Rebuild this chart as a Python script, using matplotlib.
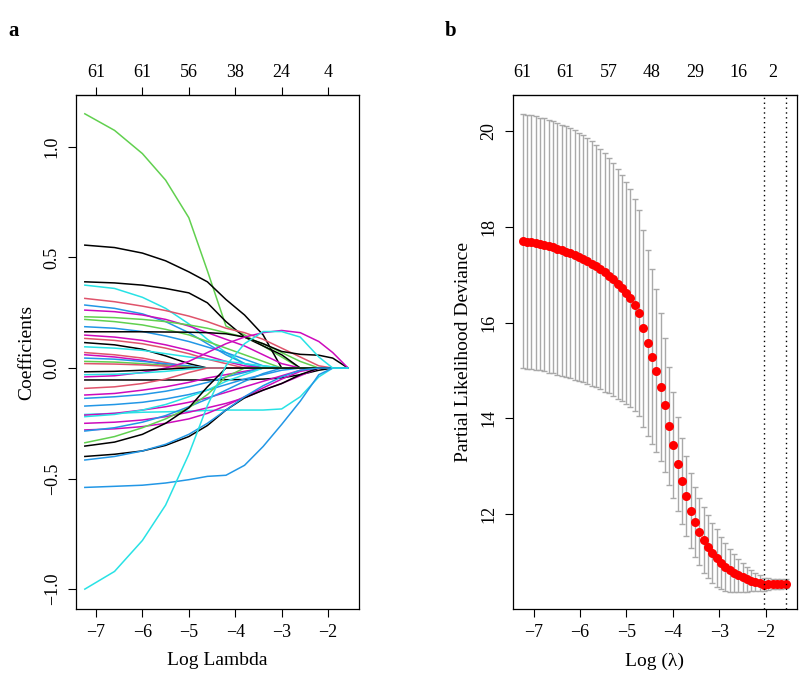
import matplotlib
matplotlib.use("Agg")
import matplotlib.pyplot as plt

plt.rcParams['font.family'] = ['Liberation Serif', 'DejaVu Serif']

# ---- panel a: coefficient paths (values read at these log lambda points)
path_x = [-7.24, -6.6, -6.0, -5.5, -5.0, -4.6, -4.2, -3.8, -3.4, -3.0, -2.6, -2.2, -1.9, -1.57]

K, R, G, B, C, M = "black", "#DF536B", "#61D04F", "#2297E6", "#28E2E5", "#CD0BBC"

paths = [
    (G, [1.15, 1.075, 0.97, 0.85, 0.68, 0.44, 0.19, 0.15, 0.10, 0.05, 0.0, 0.0, 0.0, 0.0]),
    (K, [0.556, 0.545, 0.52, 0.485, 0.435, 0.39, 0.31, 0.24, 0.15, 0.0, 0.0, 0.0, 0.0, 0.0]),
    (K, [0.39, 0.385, 0.375, 0.36, 0.34, 0.295, 0.21, 0.14, 0.10, 0.06, 0.0, 0.0, 0.0, 0.0]),
    (C, [0.375, 0.36, 0.32, 0.27, 0.20, 0.13, 0.07, 0.02, 0.0, 0.0, 0.0, 0.0, 0.0, 0.0]),
    (R, [0.315, 0.30, 0.28, 0.26, 0.235, 0.21, 0.18, 0.16, 0.13, 0.09, 0.05, 0.01, 0.0, 0.0]),
    (B, [0.285, 0.27, 0.245, 0.21, 0.16, 0.11, 0.06, 0.02, 0.0, 0.0, 0.0, 0.0, 0.0, 0.0]),
    (M, [0.262, 0.255, 0.24, 0.22, 0.19, 0.16, 0.13, 0.10, 0.06, 0.02, 0.0, 0.0, 0.0, 0.0]),
    (G, [0.232, 0.228, 0.22, 0.21, 0.195, 0.18, 0.16, 0.14, 0.11, 0.07, 0.03, 0.0, 0.0, 0.0]),
    (G, [0.22, 0.21, 0.195, 0.175, 0.15, 0.12, 0.09, 0.06, 0.03, 0.0, 0.0, 0.0, 0.0, 0.0]),
    (B, [0.187, 0.18, 0.165, 0.145, 0.12, 0.095, 0.07, 0.04, 0.01, 0.0, 0.0, 0.0, 0.0, 0.0]),
    (K, [0.164, 0.164, 0.164, 0.163, 0.162, 0.16, 0.155, 0.14, 0.11, 0.075, 0.062, 0.058, 0.045, 0.0]),
    (M, [0.149, 0.14, 0.125, 0.105, 0.08, 0.055, 0.03, 0.01, 0.0, 0.0, 0.0, 0.0, 0.0, 0.0]),
    (R, [0.134, 0.125, 0.11, 0.09, 0.065, 0.04, 0.02, 0.0, 0.0, 0.0, 0.0, 0.0, 0.0, 0.0]),
    (K, [0.115, 0.105, 0.085, 0.055, 0.02, 0.0, 0.0, 0.0, 0.0, 0.0, 0.0, 0.0, 0.0, 0.0]),
    (C, [0.096, 0.09, 0.08, 0.065, 0.05, 0.04, 0.03, 0.02, 0.01, 0.0, 0.0, 0.0, 0.0, 0.0]),
    (R, [0.07, 0.06, 0.045, 0.025, 0.005, 0.0, 0.0, 0.0, 0.0, 0.0, 0.0, 0.0, 0.0, 0.0]),
    (M, [0.06, 0.05, 0.035, 0.015, 0.0, 0.0, 0.0, 0.0, 0.0, 0.0, 0.0, 0.0, 0.0, 0.0]),
    (B, [0.045, 0.04, 0.03, 0.02, 0.01, 0.0, 0.0, 0.0, 0.0, 0.0, 0.0, 0.0, 0.0, 0.0]),
    (G, [0.03, 0.027, 0.02, 0.012, 0.004, 0.0, 0.0, 0.0, 0.0, 0.0, 0.0, 0.0, 0.0, 0.0]),
    (R, [0.02, 0.018, 0.014, 0.008, 0.0, 0.0, 0.0, 0.0, 0.0, 0.0, 0.0, 0.0, 0.0, 0.0]),
    (M, [-0.04, -0.035, -0.02, 0.0, 0.03, 0.07, 0.11, 0.14, 0.16, 0.17, 0.16, 0.12, 0.07, 0.0]),
    (K, [-0.017, -0.015, -0.01, -0.005, 0.0, 0.0, 0.0, 0.0, 0.0, 0.0, 0.0, 0.0, 0.0, 0.0]),
    (K, [-0.054, -0.054, -0.054, -0.054, -0.054, -0.054, -0.053, -0.052, -0.05, -0.045, -0.03, -0.01, 0.0, 0.0]),
    (C, [-0.03, -0.028, -0.022, -0.015, -0.005, 0.0, 0.0, 0.0, 0.0, 0.0, 0.0, 0.0, 0.0, 0.0]),
    (R, [-0.092, -0.085, -0.07, -0.05, -0.02, 0.0, 0.0, 0.0, 0.0, 0.0, 0.0, 0.0, 0.0, 0.0]),
    (M, [-0.122, -0.115, -0.10, -0.085, -0.065, -0.045, -0.03, -0.015, 0.0, 0.0, 0.0, 0.0, 0.0, 0.0]),
    (B, [-0.137, -0.13, -0.12, -0.105, -0.085, -0.065, -0.04, -0.02, 0.0, 0.0, 0.0, 0.0, 0.0, 0.0]),
    (B, [-0.172, -0.165, -0.155, -0.14, -0.12, -0.10, -0.075, -0.05, -0.03, -0.01, 0.0, 0.0, 0.0, 0.0]),
    (C, [-0.21, -0.205, -0.20, -0.198, -0.195, -0.192, -0.19, -0.19, -0.19, -0.185, -0.13, -0.04, 0.0, 0.0]),
    (M, [-0.213, -0.205, -0.19, -0.175, -0.155, -0.135, -0.11, -0.085, -0.06, -0.035, -0.01, 0.0, 0.0, 0.0]),
    (C, [-0.22, -0.21, -0.19, -0.165, -0.13, -0.10, -0.06, -0.03, 0.0, 0.0, 0.0, 0.0, 0.0, 0.0]),
    (M, [-0.25, -0.245, -0.235, -0.22, -0.20, -0.18, -0.16, -0.135, -0.10, -0.07, -0.035, 0.0, 0.0, 0.0]),
    (M, [-0.28, -0.275, -0.265, -0.25, -0.23, -0.205, -0.17, -0.13, -0.09, -0.05, -0.015, 0.0, 0.0, 0.0]),
    (B, [-0.285, -0.27, -0.245, -0.215, -0.175, -0.14, -0.10, -0.06, -0.025, 0.0, 0.0, 0.0, 0.0, 0.0]),
    (G, [-0.338, -0.31, -0.27, -0.23, -0.18, -0.12, -0.04, 0.0, 0.0, 0.0, 0.0, 0.0, 0.0, 0.0]),
    (K, [-0.353, -0.335, -0.30, -0.25, -0.18, -0.085, 0.0, 0.0, 0.0, 0.0, 0.0, 0.0, 0.0, 0.0]),
    (K, [-0.40, -0.39, -0.375, -0.35, -0.31, -0.26, -0.19, -0.135, -0.10, -0.07, -0.03, 0.0, 0.0, 0.0]),
    (B, [-0.416, -0.40, -0.375, -0.345, -0.30, -0.25, -0.19, -0.13, -0.08, -0.04, -0.01, 0.0, 0.0, 0.0]),
    (B, [-0.54, -0.535, -0.53, -0.52, -0.505, -0.49, -0.485, -0.44, -0.355, -0.255, -0.15, -0.03, 0.0, 0.0]),
    (C, [-1.0, -0.92, -0.78, -0.62, -0.39, -0.17, 0.01, 0.11, 0.165, 0.165, 0.14, 0.05, 0.0, 0.0]),
]

top_a_pos = [-7, -6, -5, -4, -3, -2]
top_a_lab = ["61", "61", "56", "38", "24", "4"]

# ---- panel b: cross-validation curve
log_lam = [-7.24, -7.15, -7.05, -6.96, -6.87, -6.77, -6.68, -6.59, -6.50, -6.40,
           -6.31, -6.22, -6.12, -6.03, -5.94, -5.85, -5.75, -5.66, -5.57, -5.47,
           -5.38, -5.29, -5.19, -5.10, -5.01, -4.92, -4.82, -4.73, -4.64, -4.54,
           -4.45, -4.36, -4.26, -4.17, -4.08, -3.99, -3.89, -3.80, -3.71, -3.61,
           -3.52, -3.43, -3.33, -3.24, -3.15, -3.06, -2.96, -2.87, -2.78, -2.68,
           -2.59, -2.50, -2.40, -2.31, -2.22, -2.13, -2.03, -1.94, -1.85, -1.75,
           -1.66, -1.57]
cv_mean = [17.70, 17.69, 17.68, 17.66, 17.64, 17.62, 17.59, 17.57, 17.54, 17.51,
           17.48, 17.45, 17.41, 17.37, 17.33, 17.28, 17.23, 17.18, 17.12, 17.05,
           16.98, 16.90, 16.81, 16.72, 16.62, 16.51, 16.37, 16.19, 15.88, 15.58,
           15.29, 14.99, 14.65, 14.28, 13.84, 13.44, 13.04, 12.69, 12.38, 12.07,
           11.83, 11.63, 11.46, 11.32, 11.19, 11.08, 10.98, 10.90, 10.83, 10.77,
           10.72, 10.68, 10.64, 10.61, 10.58, 10.56, 10.53, 10.54, 10.54, 10.54,
           10.54, 10.55]
cv_se = [2.65, 2.65, 2.65, 2.65, 2.64, 2.64, 2.64, 2.63, 2.63, 2.62,
         2.62, 2.61, 2.60, 2.59, 2.58, 2.57, 2.55, 2.53, 2.51, 2.49,
         2.46, 2.43, 2.40, 2.36, 2.32, 2.27, 2.21, 2.15, 2.05, 1.94,
         1.82, 1.70, 1.55, 1.40, 1.24, 1.10, 0.98, 0.90, 0.83, 0.78,
         0.73, 0.70, 0.68, 0.66, 0.63, 0.60, 0.55, 0.50, 0.45, 0.40,
         0.35, 0.30, 0.26, 0.22, 0.19, 0.16, 0.14, 0.12, 0.11, 0.10,
         0.10, 0.10]
lam_min = -2.03
lam_1se = -1.57
top_b_pos = [-7.24, -6.31, -5.38, -4.45, -3.52, -2.59, -1.85]
top_b_lab = ["61", "61", "57", "48", "29", "16", "2"]

fig = plt.figure(figsize=(8, 6.81), dpi=100)
ax1 = fig.add_axes([0.095, 0.1057, 0.354, 0.7548])
ax2 = fig.add_axes([0.641, 0.1057, 0.355, 0.7548])

fs = 13

# panel a
for col, vals in paths:
    ax1.plot(path_x, vals, color=col, lw=1.1)
ax1.set_xlim(-7.43, -1.33)
ax1.set_ylim(-1.09, 1.235)
ax1.set_xticks([-7, -6, -5, -4, -3, -2])
ax1.set_xticklabels(["\u22127", "\u22126", "\u22125", "\u22124", "\u22123", "\u22122"])
ax1.set_yticks([-1.0, -0.5, 0.0, 0.5, 1.0])
ax1.set_yticklabels(["\u22121.0", "\u22120.5", "0.0", "0.5", "1.0"], rotation=90, va="center")
ax1.set_xlabel("Log Lambda", fontsize=fs + 1, labelpad=8)
ax1.set_ylabel("Coefficients", fontsize=fs + 1, labelpad=6)
top1 = ax1.secondary_xaxis("top")
top1.set_xticks(top_a_pos)
top1.set_xticklabels(top_a_lab)
top1.tick_params(direction="out", length=6, labelsize=fs, pad=4)

# panel b
ax2.errorbar(log_lam, cv_mean, yerr=cv_se, fmt="none", ecolor="darkgray",
             elinewidth=1.0, capsize=2, capthick=1.0)
ax2.plot(log_lam, cv_mean, "o", color="red", markersize=6.5, markeredgewidth=0)
ax2.axvline(lam_min, color="black", ls=(0, (1, 2.5)), lw=1)
ax2.axvline(lam_1se, color="black", ls=(0, (1, 2.5)), lw=1)
ax2.set_xlim(-7.45, -1.33)
ax2.set_ylim(10.02, 20.75)
ax2.set_xticks([-7, -6, -5, -4, -3, -2])
ax2.set_xticklabels(["\u22127", "\u22126", "\u22125", "\u22124", "\u22123", "\u22122"])
ax2.set_yticks([12, 14, 16, 18, 20])
ax2.set_yticklabels(["12", "14", "16", "18", "20"], rotation=90, va="center")
ax2.set_xlabel("Log (\u03bb)", fontsize=fs + 1, labelpad=8)
ax2.set_ylabel("Partial Likelihood Deviance", fontsize=fs + 1, labelpad=6)
top2 = ax2.secondary_xaxis("top")
top2.set_xticks(top_b_pos)
top2.set_xticklabels(top_b_lab)
top2.tick_params(length=0, labelsize=fs, pad=10)

for ax in (ax1, ax2):
    ax.tick_params(direction="out", length=6, labelsize=fs, pad=5)
    for s in ax.spines.values():
        s.set_linewidth(0.9)

fig.text(0.01, 0.955, "a", fontsize=15, fontweight="bold", va="center")
fig.text(0.556, 0.955, "b", fontsize=15, fontweight="bold", va="center")

fig.savefig("out.png", dpi=100)
